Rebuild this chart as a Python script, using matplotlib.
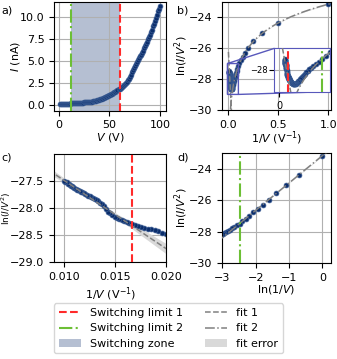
import numpy as np
import matplotlib
matplotlib.use('Agg')
import matplotlib.pyplot as plt
from matplotlib.lines import Line2D
from matplotlib.patches import Patch

plt.rcParams['font.size'] = 8

voltage = np.arange(1, 101)
ln_iv2 = np.array([
    -23.15, -24.38, -25.05, -25.56, -25.98, -26.30, -26.56, -26.78, -26.98, -27.17,
    -27.34, -27.49, -27.61, -27.71, -27.80, -27.89, -27.97, -28.04, -28.11, -28.17,
    -28.23, -28.29, -28.34, -28.39, -28.44, -28.49, -28.53, -28.57, -28.60, -28.62,
    -28.64, -28.65, -28.66, -28.66, -28.66, -28.65, -28.64, -28.63, -28.62, -28.61,
    -28.60, -28.59, -28.57, -28.56, -28.54, -28.53, -28.51, -28.50, -28.48, -28.47,
    -28.45, -28.43, -28.41, -28.39, -28.38, -28.36, -28.35, -28.33, -28.31, -28.29,
    -28.28, -28.26, -28.24, -28.22, -28.20, -28.18, -28.16, -28.13, -28.10, -28.07,
    -28.02, -27.97, -27.93, -27.90, -27.87, -27.85, -27.83, -27.81, -27.79, -27.78,
    -27.77, -27.76, -27.74, -27.72, -27.71, -27.70, -27.69, -27.67, -27.66, -27.65,
    -27.63, -27.62, -27.60, -27.59, -27.57, -27.56, -27.55, -27.53, -27.52, -27.51,
])

switch_limit_1 = 60   # V
switch_limit_2 = 12   # V

NAVY = '#0b2d6b'
RED = '#ff2a2a'
GREEN = '#6cbf35'
GRAY = '#808080'
BAND = '#d9d9d9'
INSET = '#5858bb'

current = voltage**2 * np.exp(ln_iv2) * 1e9  # nA
inv_v = 1.0 / voltage
ln_inv_v = np.log(inv_v)

# fits: linear in 1/V above limit 1, power law below limit 2
m1 = voltage >= switch_limit_1
p1, cov1 = np.polyfit(inv_v[m1], ln_iv2[m1], 1, cov=True)
m2 = voltage <= switch_limit_2
p2, cov2 = np.polyfit(ln_inv_v[m2], ln_iv2[m2], 1, cov=True)


def fit_band(x, p, cov, k=3.0):
    J = np.vstack([x, np.ones_like(x)]).T
    err = np.sqrt(np.einsum('ij,jk,ik->i', J, cov, J))
    y = np.polyval(p, x)
    return y, y - k * err, y + k * err


def dots(ax, x, y):
    ax.plot(x, y, 'o', color=NAVY, ms=3.5, mec='#3d5f96', mew=0.5, zorder=2)


fig = plt.figure(figsize=(3.37, 3.59), dpi=100)
ax_a = fig.add_axes([0.161, 0.692, 0.331, 0.302])
ax_b = fig.add_axes([0.660, 0.694, 0.321, 0.301])
ax_c = fig.add_axes([0.161, 0.269, 0.332, 0.303])
ax_d = fig.add_axes([0.660, 0.268, 0.321, 0.305])

# a) I-V
ax_a.axvspan(switch_limit_2, switch_limit_1, color=NAVY, alpha=0.3, lw=0, zorder=0)
dots(ax_a, voltage, current)
ax_a.axvline(switch_limit_1, color=RED, ls='--', lw=1.5, zorder=3)
ax_a.axvline(switch_limit_2, color=GREEN, ls='-.', lw=1.5, zorder=3)
ax_a.set_xlim(-4.3, 105.6)
ax_a.set_ylim(-0.64, 11.68)
ax_a.set_xticks([0, 50, 100])
ax_a.set_yticks([0, 2.5, 5, 7.5, 10])
ax_a.set_xlabel('$V$ (V)')
ax_a.set_ylabel('$I$ (nA)')

# b) ln(I/V^2) vs 1/V with inset
xb1 = np.linspace(0.0, 1.03, 2000)
xb2 = np.linspace(1e-3, 1.03, 4000)
axins = ax_b.inset_axes([0.48, 0.169, 0.517, 0.40])
for ax in (ax_b, axins):
    y1, lo1, hi1 = fit_band(xb1, p1, cov1, k=6)
    y2, lo2, hi2 = fit_band(np.log(xb2), p2, cov2)
    ax.fill_between(xb1, lo1, hi1, color=BAND, lw=0, zorder=1)
    ax.fill_between(xb2, lo2, hi2, color=BAND, lw=0, zorder=1)
    dots(ax, inv_v, ln_iv2)
    ax.plot(xb1, y1, '--', color=GRAY, lw=1.1, zorder=3)
    ax.plot(xb2, y2, '-.', color=GRAY, lw=1.1, zorder=3)
axins.axvline(1 / switch_limit_1, color=RED, ls='--', lw=1.5, zorder=4)
axins.axvline(1 / switch_limit_2, color=GREEN, ls='-.', lw=1.5, zorder=4)
axins.set_xlim(-0.01, 0.1)
axins.set_ylim(-29, -27)
axins.set_xticks([0])
axins.set_xticklabels(['0'], fontsize=7)
axins.set_yticks([-28])
axins.set_yticklabels(['\u221228'], fontsize=6)
axins.tick_params(axis='y', pad=1)
axins.grid(True)
axins.set_axisbelow(True)
for s in axins.spines.values():
    s.set_edgecolor(INSET)
ax_b.indicate_inset_zoom(axins, edgecolor=INSET, alpha=1, lw=1)
ax_b.set_xlim(-0.06, 1.024)
ax_b.set_ylim(-30, -23)
ax_b.set_xticks([0, 0.5, 1.0])
ax_b.set_yticks([-24, -26, -28, -30])
ax_b.set_xlabel('1/$V$ (V$^{-1}$)')
ax_b.set_ylabel('ln($I/V^2$)')

# c) high-voltage region, fit 1
xc = np.linspace(0.0085, 0.0205, 300)
yc, loc_, hic = fit_band(xc, p1, cov1, k=6)
ax_c.fill_between(xc, loc_, hic, color=BAND, lw=0, zorder=1)
dots(ax_c, inv_v, ln_iv2)
ax_c.plot(xc, yc, '--', color=GRAY, lw=1.1, zorder=3)
ax_c.axvline(1 / switch_limit_1, color=RED, ls='--', lw=1.5, zorder=4)
ax_c.set_xlim(0.009, 0.020)
ax_c.set_ylim(-29, -27)
ax_c.set_xticks([0.010, 0.015, 0.020])
ax_c.set_yticks([-27.5, -28.0, -28.5, -29.0])
ax_c.set_xlabel('1/$V$ (V$^{-1}$)')
ax_c.set_ylabel('ln($I/V^2$)', fontsize=6.5)

# d) low-voltage region, fit 2
xd = np.linspace(-3.2, 0.3, 300)
yd, lod, hid = fit_band(xd, p2, cov2)
ax_d.fill_between(xd, lod, hid, color=BAND, lw=0, zorder=1)
dots(ax_d, ln_inv_v, ln_iv2)
ax_d.plot(xd, yd, '-.', color=GRAY, lw=1.1, zorder=3)
ax_d.axvline(np.log(1 / switch_limit_2), color=GREEN, ls='-.', lw=1.5, zorder=4)
ax_d.set_xlim(-3, 0.25)
ax_d.set_ylim(-30, -23)
ax_d.set_xticks([-3, -2, -1, 0])
ax_d.set_yticks([-24, -26, -28, -30])
ax_d.set_xlabel('ln(1/$V$)')
ax_d.set_ylabel('ln($I/V^2$)')

for ax in (ax_a, ax_b, ax_c, ax_d):
    ax.grid(True, zorder=0)
    ax.set_axisbelow(True)

# label placement (axes coords) to match the reference
ax_a.yaxis.set_label_coords(-0.29, 0.5)
ax_b.yaxis.set_label_coords(-0.30, 0.5)
ax_c.yaxis.set_label_coords(-0.367, 0.5)
ax_d.yaxis.set_label_coords(-0.30, 0.5)
ax_a.xaxis.set_label_coords(0.5, -0.19)
ax_b.xaxis.set_label_coords(0.5, -0.185)
ax_c.xaxis.set_label_coords(0.5, -0.21)
ax_d.xaxis.set_label_coords(0.5, -0.186)

for lbl, x, y in [('a)', 0.005, 0.985), ('b)', 0.525, 0.985), ('c)', 0.005, 0.575), ('d)', 0.525, 0.575)]:
    fig.text(x, y, lbl, ha='left', va='top')

handles = [
    Line2D([], [], color=RED, ls='--', lw=1.5),
    Line2D([], [], color=GREEN, ls='-.', lw=1.5),
    Patch(color=NAVY, alpha=0.3, lw=0),
    Line2D([], [], color=GRAY, ls='--', lw=1.1),
    Line2D([], [], color=GRAY, ls='-.', lw=1.1),
    Patch(color=BAND, lw=0),
]
labels = ['Switching limit 1', 'Switching limit 2', 'Switching zone', 'fit 1', 'fit 2', 'fit error']
fig.legend(handles, labels, ncol=2, loc='lower center', bbox_to_anchor=(0.5, 0.0))

fig.savefig('out.png', dpi=100)
